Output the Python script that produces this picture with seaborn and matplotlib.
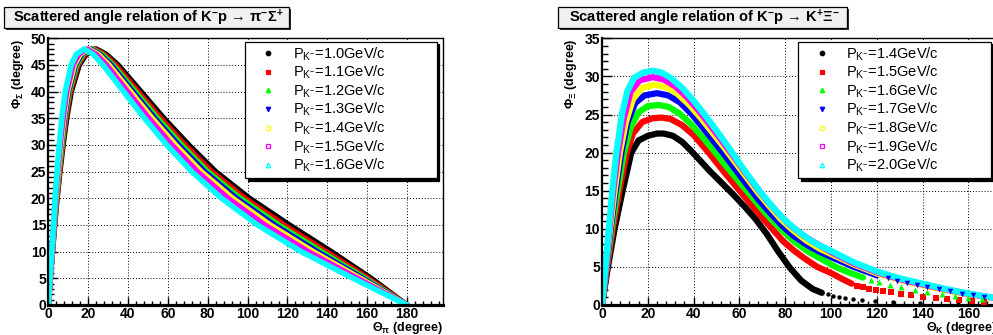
import matplotlib
matplotlib.use("Agg")
import matplotlib.pyplot as plt
import numpy as np
import pandas as pd
import seaborn as sns
from matplotlib.lines import Line2D
from matplotlib.patches import Rectangle
from matplotlib.ticker import MultipleLocator

# ---------------- data ----------------
COLORS = ["#000000", "#ff0000", "#00ff00", "#0000ff", "#ffff00", "#ff00ff", "#00ffff"]
MARKERS = ["o", "s", "^", "v", "o", "s", "^"]
OPEN = [False, False, False, False, True, True, True]

# Left panel: K-p -> pi- Sigma+
L_P = ["1.0", "1.1", "1.2", "1.3", "1.4", "1.5", "1.6"]
L_phi = [0, 5, 10, 15, 20, 25, 30, 35, 40, 45, 47, 48,
         47, 45, 40, 35, 30, 25, 20, 15, 10, 5, 0]
L_theta_10 = [0, 1.0, 2.1, 3.2, 4.4, 5.8, 7.4, 9.2, 11.5, 15.5, 19.0, 24.0,
              29.0, 35.0, 46.5, 58.0, 70.5, 84.0, 101.0, 121.0, 142.0, 162.0, 180.0]
L_theta_11 = [0, 1.0, 2.0, 3.1, 4.2, 5.6, 7.1, 8.8, 11.0, 14.8, 18.2, 23.0,
              27.9, 33.7, 45.0, 56.4, 68.6, 82.0, 98.6, 118.3, 139.5, 160.5, 180.0]
L_theta_12 = [0, 0.9, 2.0, 3.0, 4.1, 5.3, 6.8, 8.4, 10.5, 14.2, 17.4, 22.0,
              26.9, 32.5, 43.6, 54.8, 66.9, 80.0, 96.4, 115.7, 137.1, 159.0, 180.0]
L_theta_13 = [0, 0.9, 1.9, 2.9, 3.9, 5.1, 6.5, 8.1, 10.1, 13.6, 16.7, 21.2,
              25.9, 31.5, 42.4, 53.4, 65.3, 78.4, 94.4, 113.5, 135.0, 157.8, 180.0]
L_theta_14 = [0, 0.9, 1.9, 2.8, 3.8, 5.0, 6.3, 7.8, 9.7, 13.1, 16.0, 20.4,
              25.1, 30.5, 41.3, 52.2, 63.9, 76.8, 92.6, 111.4, 133.0, 156.6, 180.0]
L_theta_15 = [0, 0.85, 1.8, 2.7, 3.6, 4.7, 5.9, 7.4, 9.2, 12.4, 15.2, 19.4,
              24.0, 29.2, 39.8, 50.5, 62.0, 74.8, 90.2, 108.7, 130.5, 155.1, 180.0]
L_theta_16 = [0, 0.8, 1.7, 2.6, 3.4, 4.4, 5.5, 6.8, 8.5, 11.5, 14.0, 18.0,
              22.5, 27.5, 37.8, 48.3, 59.5, 72.0, 87.0, 105.0, 127.0, 153.0, 180.0]
L_theta = [L_theta_10, L_theta_11, L_theta_12, L_theta_13, L_theta_14, L_theta_15, L_theta_16]

# Right panel: K-p -> K+ Xi-
R_P = ["1.4", "1.5", "1.6", "1.7", "1.8", "1.9", "2.0"]
R_theta_14 = [0, 2.6, 5.5, 9.0, 12.8, 16, 20, 24, 27, 31, 35, 39, 43, 47, 52, 57, 62, 67, 72, 77, 82, 87, 92, 96]
R_phi_14 = [0, 5, 10, 15, 20, 21.6, 22.2, 22.5, 22.5, 22.2, 21.4, 20.2, 18.9, 17.6, 16.1, 14.6, 13.0, 11.3, 9.3, 7.0, 4.9, 3.2, 2.1, 1.6]
R_tail_theta_14 = [98.8, 101.0, 103.6, 106.1, 109.5, 113.4, 119.2, 127.2, 138.9, 155.5]
R_tail_phi_14 = [1.4, 1.2, 1.05, 0.93, 0.82, 0.7, 0.57, 0.42, 0.25, 0.1]

R_theta_15 = [0, 2.3, 4.7, 7.6, 10.8, 13.5, 17.5, 22, 26, 30, 35, 40, 46, 50, 54, 59, 64, 69, 74, 79, 84, 89, 94, 100, 105, 109]
R_phi_15 = [0, 5, 10, 15, 20, 22.5, 24, 24.5, 24.6, 24.4, 23.6, 22.3, 20.2, 18.7, 17.2, 15.4, 13.6, 11.8, 10.1, 8.4, 7.1, 6.0, 5.0, 4.2, 3.4, 2.8]
R_tail_theta_15 = [111.2, 113.8, 116.7, 119.8, 122.8, 126.3, 130.4, 135.0, 140.3, 145.8, 150.8, 156.0, 161.5, 167.0]
R_tail_phi_15 = [2.5, 2.3, 2.13, 1.97, 1.83, 1.65, 1.45, 1.27, 1.1, 0.92, 0.77, 0.62, 0.5, 0.38]

R_theta_16 = [0, 2.0, 4.2, 6.8, 9.6, 12.5, 16, 20, 24.7, 29, 34, 39, 44, 49, 54, 59, 64, 69, 74, 79, 84, 90, 96, 102, 108, 114]
R_phi_16 = [0, 5, 10, 15, 20, 23.3, 25.3, 26.1, 26.25, 26.0, 25.1, 23.7, 22.0, 20.2, 18.3, 16.5, 14.7, 12.9, 11.2, 9.7, 8.3, 7.0, 6.0, 5.0, 4.25, 3.6]
R_tail_theta_16 = [117.5, 121, 125.7, 130.5, 136.7, 142, 148.3, 154, 160, 166, 172]
R_tail_phi_16 = [3.3, 3.0, 2.65, 2.35, 2.0, 1.7, 1.4, 1.15, 0.95, 0.75, 0.55]

R_theta_17 = [0, 1.9, 3.8, 6.0, 8.5, 11.2, 14.5, 18.5, 24, 29, 34, 39, 44, 49, 54, 59, 64, 69, 74, 79, 84, 90, 95, 100, 110, 120]
R_phi_17 = [0, 5, 10, 15, 20, 24, 26.5, 27.5, 27.8, 27.5, 26.6, 25.1, 23.3, 21.4, 19.5, 17.5, 15.5, 13.6, 11.9, 10.3, 9.0, 7.8, 7.0, 6.3, 5.0, 3.9]
R_tail_theta_17 = [125, 129, 133, 137.5, 142, 147, 152, 157, 162, 167, 172]
R_tail_phi_17 = [3.5, 3.2, 2.95, 2.65, 2.35, 2.05, 1.8, 1.5, 1.25, 1.05, 0.85]

R_theta_18 = [0, 1.7, 3.5, 5.5, 7.8, 10.4, 13.5, 17.5, 23, 28, 33, 38, 43, 48, 53, 58, 63, 68, 73, 78, 83, 89, 95, 100, 110, 120, 130, 140, 150, 160, 172]
R_phi_18 = [0, 5, 10, 15, 20, 24, 27, 28.5, 28.9, 28.6, 27.7, 26.3, 24.6, 22.7, 20.8, 18.8, 16.8, 14.8, 13.0, 11.3, 9.9, 8.5, 7.4, 6.7, 5.3, 4.15, 3.3, 2.6, 1.95, 1.4, 0.85]
R_tail_theta_18 = []
R_tail_phi_18 = []

R_theta_19 = [0, 1.6, 3.2, 4.9, 7.0, 9.5, 12.5, 16.5, 22.2, 27, 32, 37, 42, 47, 52, 57, 62, 67, 72, 77, 82, 88, 94, 100, 110, 120, 130, 140, 150, 160, 172]
R_phi_19 = [0, 5, 10, 15, 20, 24.5, 28, 29.5, 29.9, 29.6, 28.7, 27.3, 25.6, 23.7, 21.7, 19.7, 17.6, 15.6, 13.7, 12.0, 10.5, 9.1, 8.0, 6.95, 5.45, 4.3, 3.4, 2.7, 2.05, 1.45, 0.9]
R_tail_theta_19 = []
R_tail_phi_19 = []

R_theta_20 = [0, 1.5, 3.0, 4.5, 6.3, 8.7, 11, 14, 18, 22, 26, 30, 35, 40, 45, 50, 55, 60, 65, 70, 75, 80, 85, 90, 95, 100, 110, 120, 130, 140, 150, 160, 172]
R_phi_20 = [0, 5, 10, 15, 20, 25, 28, 29.8, 30.5, 30.75, 30.5, 29.8, 28.5, 26.8, 24.9, 22.9, 20.8, 18.6, 16.5, 14.5, 12.7, 11.1, 9.8, 8.7, 7.8, 7.1, 5.6, 4.4, 3.5, 2.8, 2.1, 1.5, 0.9]
R_tail_theta_20 = []
R_tail_phi_20 = []

R_theta = [R_theta_14, R_theta_15, R_theta_16, R_theta_17, R_theta_18, R_theta_19, R_theta_20]
R_phi = [R_phi_14, R_phi_15, R_phi_16, R_phi_17, R_phi_18, R_phi_19, R_phi_20]
R_tail_theta = [R_tail_theta_14, R_tail_theta_15, R_tail_theta_16, R_tail_theta_17,
                R_tail_theta_18, R_tail_theta_19, R_tail_theta_20]
R_tail_phi = [R_tail_phi_14, R_tail_phi_15, R_tail_phi_16, R_tail_phi_17,
              R_tail_phi_18, R_tail_phi_19, R_tail_phi_20]

TITLE_L = "Scattered angle relation of K$^{-}$p → π$^{-}$Σ$^{+}$"
TITLE_R = "Scattered angle relation of K$^{-}$p → K$^{+}$Ξ$^{-}$"

# ---------------- style ----------------
sns.set_theme(style="white")
plt.rcParams["font.family"] = ["Liberation Sans", "DejaVu Sans"]
plt.rcParams["font.weight"] = "bold"
plt.rcParams["mathtext.fontset"] = "custom"
plt.rcParams["mathtext.rm"] = "Liberation Sans"
plt.rcParams["mathtext.it"] = "Liberation Sans:italic"
plt.rcParams["mathtext.bf"] = "Liberation Sans:bold"
plt.rcParams["mathtext.default"] = "regular"
for k in ["text.color", "axes.labelcolor", "xtick.color", "ytick.color", "axes.edgecolor"]:
    plt.rcParams[k] = "black"

W, H = 993, 335
fig = plt.figure(figsize=(W / 100, H / 100), dpi=100)
fig.patch.set_facecolor("white")


def fx(px):
    return px / W


def fy(py):
    return 1 - py / H


axL = fig.add_axes([fx(48.3), fy(305), 394.5 / W, 266.7 / H])
axR = fig.add_axes([fx(602), fy(305), 394.8 / W, 266.7 / H])


def style_axes(ax, xmax, ymax, xlabel, ylabel):
    ax.set_xlim(0, xmax)
    ax.set_ylim(0, ymax)
    ax.xaxis.set_major_locator(MultipleLocator(20))
    ax.xaxis.set_minor_locator(MultipleLocator(4))
    ax.yaxis.set_major_locator(MultipleLocator(5))
    ax.yaxis.set_minor_locator(MultipleLocator(1))
    ax.grid(True, which="major", color="black", ls=(0, (1, 2)), lw=0.7)
    ax.set_axisbelow(True)
    ax.tick_params(axis="x", which="major", direction="in", length=5.5, width=1,
                   labelsize=10, pad=1.5, bottom=True, top=False)
    ax.tick_params(axis="x", which="minor", direction="in", length=3, width=1,
                   bottom=True, top=False)
    ax.tick_params(axis="y", which="major", direction="in", length=7, width=1,
                   labelsize=10, pad=1.5, left=True, right=False)
    ax.tick_params(axis="y", which="minor", direction="in", length=4, width=1,
                   left=True, right=False)
    ax.spines["bottom"].set_linewidth(2.3)
    ax.spines["left"].set_linewidth(1.6)
    ax.spines["top"].set_linewidth(1.0)
    ax.spines["right"].set_linewidth(1.0)
    ax.set_xlabel(xlabel, loc="right", fontsize=9, fontweight="bold")
    ax.xaxis.set_label_coords(1.0, -0.055)
    ax.set_ylabel(ylabel, loc="top", fontsize=9, fontweight="bold")
    ax.yaxis.set_label_coords(-0.057, 1.0)


# ---------------- left panel ----------------
for i in range(len(L_P)):
    df = pd.DataFrame({"theta": L_theta[i], "phi": L_phi})
    sns.lineplot(data=df, x="theta", y="phi", ax=axL, color=COLORS[i], lw=4.0,
                 sort=False, estimator=None, legend=False,
                 solid_joinstyle="round", solid_capstyle="round")

# ---------------- right panel ----------------
tail_sizes = [10, 16, 18, 16, 16, 16, 16]
for i in range(len(R_P)):
    df = pd.DataFrame({"theta": R_theta[i], "phi": R_phi[i]})
    sns.lineplot(data=df, x="theta", y="phi", ax=axR, color=COLORS[i], lw=4.5,
                 sort=False, estimator=None, legend=False,
                 solid_joinstyle="round", solid_capstyle="round")
    if len(R_tail_theta[i]):
        dt = pd.DataFrame({"theta": R_tail_theta[i], "phi": R_tail_phi[i]})
        sns.scatterplot(data=dt, x="theta", y="phi", ax=axR, color=COLORS[i],
                        marker=MARKERS[i], s=tail_sizes[i], linewidth=0,
                        legend=False, zorder=3)

style_axes(axL, 198, 50, "$Θ_{π}$ (degree)", "$Φ_{Σ}$ (degree)")
style_axes(axR, 172.4, 35, "$Θ_{K}$ (degree)", "$Φ_{Ξ}$ (degree)")


# ---------------- legends ----------------
def make_legend(ax, labels, x0, x1, y0, y1):
    handles = []
    for i in range(len(labels)):
        handles.append(Line2D([], [], ls="none", marker=MARKERS[i], markersize=3.2,
                              markeredgewidth=0.9, color=COLORS[i],
                              markerfacecolor="none" if OPEN[i] else COLORS[i]))
    texts = ["P$_{K^{-}}$=" + p + "GeV/c" for p in labels]
    leg = ax.legend(handles, texts, loc="upper left",
                    bbox_to_anchor=(fx(x0), fy(y1), (x1 - x0) / W, (y1 - y0) / H),
                    bbox_transform=fig.transFigure, mode="expand",
                    prop={"size": 10.5, "weight": "normal"},
                    frameon=True, fancybox=False, edgecolor="black", framealpha=1,
                    shadow={"color": "black", "alpha": 1},
                    borderpad=0.25, handlelength=2.7, handletextpad=0.32,
                    labelspacing=0.08, borderaxespad=0)
    leg.get_frame().set_linewidth(0.9)
    for t in leg.get_texts():
        t.set_color("black")
    return leg


make_legend(axL, L_P, 245, 436.7, 41.7, 171.7)
make_legend(axR, R_P, 798.3, 991, 41.7, 171.7)


# ---------------- title boxes ----------------
def title_box(x0, x1, y0, y1, text):
    shadow = Rectangle((fx(x0 + 2), fy(y1 + 1.5)), (x1 - x0) / W, (y1 - y0) / H,
                       transform=fig.transFigure, facecolor="#303030", edgecolor="none")
    box = Rectangle((fx(x0), fy(y1)), (x1 - x0) / W, (y1 - y0) / H,
                    transform=fig.transFigure, facecolor="#f0f0f0", edgecolor="black", lw=0.9)
    fig.add_artist(shadow)
    fig.add_artist(box)
    fig.text(fx((x0 + x1) / 2 + 1.5), fy((y0 + y1) / 2), text, ha="center", va="center",
             fontsize=10.5, fontweight="bold", color="black")


title_box(4, 289.3, 7.3, 28.3, TITLE_L)
title_box(558, 847, 7.3, 28.3, TITLE_R)

fig.savefig("out.png", dpi=100, facecolor="white")
